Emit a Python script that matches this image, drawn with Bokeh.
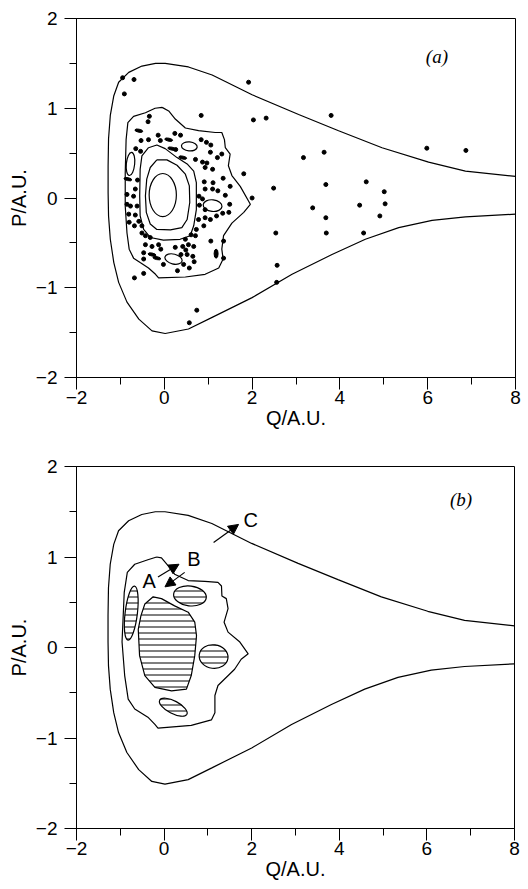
from bokeh.plotting import figure
from bokeh.models import (Range1d, SingleIntervalTicker, Arrow, NormalHead, Label,
                          ColumnDataSource, LabelSet)
from bokeh.layouts import column
from bokeh.embed import file_html
from bokeh.resources import INLINE
from bokeh.core.properties import value

# ---------------- data ----------------
# outer separatrix curve (same in both panels)
sep_q = [8.0, 6.86, 6.02, 4.96, 3.97, 3.06, 2.0, 1.09, 0.55, 0.02, -0.2, -0.51, -0.81,
         -1.04, -1.15, -1.23, -1.27, -1.28, -1.28, -1.27, -1.23, -1.15, -1.04, -0.85,
         -0.58, -0.28, 0.02, 0.55, 1.09, 2.0, 2.91, 3.82, 4.58, 5.34, 6.1, 6.86, 8.0]
sep_p = [0.24, 0.30, 0.40, 0.56, 0.75, 0.93, 1.15, 1.37, 1.46, 1.50, 1.50, 1.47, 1.40,
         1.29, 1.14, 0.92, 0.66, 0.36, 0.06, -0.20, -0.46, -0.72, -0.94, -1.16,
         -1.35, -1.48, -1.51, -1.46, -1.33, -1.11, -0.85, -0.63, -0.46, -0.33, -0.25, -0.21, -0.18]

# panel (a): boundary of the chaotic region
bnd_a_q = [-0.05, 0.10, 0.25, 0.48, 0.78, 1.16, 1.31, 1.37, 1.39, 1.50, 1.46, 1.54, 1.73,
           1.96, 1.81, 1.54, 1.35, 1.31, 1.34, 1.24, 0.93, 0.48, -0.13, -0.20, -0.36,
           -0.55, -0.70, -0.80, -0.85, -0.89, -0.89, -0.87, -0.83, -0.70, -0.43, -0.21]
bnd_a_p = [1.01, 0.97, 0.88, 0.78, 0.75, 0.73, 0.73, 0.65, 0.56, 0.49, 0.36, 0.25, 0.13,
           -0.07, -0.16, -0.28, -0.42, -0.57, -0.68, -0.78, -0.85, -0.88, -0.89, -0.85, -0.78,
           -0.72, -0.67, -0.57, -0.39, -0.09, 0.28, 0.65, 0.84, 0.91, 0.95, 1.00]

# panel (a): nested regular orbits around the centre
loop2_q = [-0.17, 0.06, 0.29, 0.48, 0.57, 0.58, 0.52, 0.40, 0.14, -0.17, -0.32, -0.41, -0.43, -0.40, -0.32]
loop2_p = [0.425, 0.425, 0.365, 0.265, 0.135, -0.05, -0.24, -0.33, -0.356, -0.35, -0.29, -0.16, 0.024, 0.21, 0.34]
loop3_q = [-0.36, -0.17, 0.02, 0.29, 0.52, 0.67, 0.73, 0.73, 0.67, 0.59, 0.36, -0.02, -0.32, -0.47, -0.55, -0.56, -0.55, -0.51]
loop3_p = [0.56, 0.59, 0.55, 0.45, 0.38, 0.30, 0.17, -0.13, -0.31, -0.42, -0.46, -0.47, -0.44, -0.35, -0.20, 0.02, 0.32, 0.47]

# panel (a): small elliptic islands (centre, full width, full height)
isl_a_q = [-0.035, 0.57, 1.10, 0.21, -0.77]
isl_a_p = [0.033, 0.575, -0.085, -0.68, 0.38]
isl_a_w = [0.62, 0.36, 0.43, 0.40, 0.19]
isl_a_h = [0.48, 0.10, 0.13, 0.11, 0.26]
isl_a_ang = [0.0, -0.1, -0.1, -0.25, -0.1]

# panel (a): Poincare section points
dot_q = [-0.95, -0.69, -0.91, 1.92, 0.84, 2.03, 2.32, 3.80, 3.17, 3.64, 5.98, 6.87, 1.81, 2.49,
         2.00, 3.68, 4.60, 5.01, 5.03, 3.38, 4.45, 3.68, 4.91, 2.54, 3.69, 4.54, 2.57, 2.56,
         -0.68, -0.47, 0.74, 0.57, 1.35, 1.35,
         -0.34, -0.37, -0.14, 0.24, 0.37, -0.53, -0.36, -0.09, -0.65, -0.54, 0.84, 0.96, 1.06,
         0.26, 1.05, 1.21, 1.31, 0.71, 0.87, 0.97, 0.93, 1.10, 1.34, 1.50, -0.61, -0.85, -0.66,
         -0.70, 0.91, 0.93, 1.11, 1.10, 1.22, 0.79, 0.87, 1.39, 1.49, -0.85, -0.77, -0.62, -0.81,
         -0.66, 0.80, 0.93, 1.47, -0.80, -0.58, -0.51, -0.68, 0.78, 0.93, 1.05, 1.19, 1.33, 0.90,
         0.73, -0.51, -0.43, -0.32, 0.61, 0.71, 0.48, 0.55, 0.67, 1.06, -0.43, -0.28, -0.13, -0.08,
         0.25, 0.42, 0.49, -0.47, 0.38, 0.52, 0.65, -0.47, -0.02, 0.30, 0.44, 0.57, 0.68]
dot_p = [1.34, 1.32, 1.16, 1.29, 0.92, 0.87, 0.89, 0.92, 0.45, 0.51, 0.555, 0.53, 0.27, 0.11,
         0.0, 0.15, 0.18, 0.07, -0.065, -0.11, -0.08, -0.22, -0.20, -0.39, -0.39, -0.39, -0.75, -0.94,
         -0.89, -0.84, -1.25, -1.39, -0.48, -0.67,
         0.91, 0.85, 0.70, 0.72, 0.70, 0.64, 0.65, 0.64, 0.55, 0.52, 0.65, 0.62, 0.59,
         0.54, 0.51, 0.45, 0.49, 0.43, 0.40, 0.39, 0.34, 0.32, 0.22, 0.13, 0.20, 0.04, 0.10,
         0.02, 0.18, 0.10, 0.17, 0.10, 0.08, 0.02, -0.01, 0.03, -0.07, -0.07, -0.09, -0.09, -0.18,
         -0.19, -0.08, -0.13, -0.16, -0.27, -0.26, -0.31, -0.31, -0.24, -0.22, -0.24, -0.20, -0.17, -0.31,
         -0.35, -0.39, -0.42, -0.44, -0.41, -0.42, -0.46, -0.52, -0.54, -0.48, -0.52, -0.54, -0.52, -0.57,
         -0.55, -0.54, -0.58, -0.61, -0.63, -0.63, -0.65, -0.68, -0.74, -0.81, -0.74, -0.78, -0.71]
# short streak-like marks
streak_q = [-0.58, 0.10, 0.17, 0.42, -0.83, -0.28, -0.17]
streak_p = [0.75, 0.65, 0.55, 0.45, 0.21, -0.63, -0.67]
blob_q = [1.18]
blob_p = [-0.62]

# panel (b): boundary of the chaotic region
bnd_b_q = [-0.17, -0.06, 0.09, 0.24, 0.55, 0.93, 1.23, 1.31, 1.32, 1.42, 1.46, 1.37, 1.46,
           1.73, 1.92, 1.76, 1.61, 1.23, 1.16, 1.16, 1.08, 0.62, -0.14, -0.21, -0.37, -0.67,
           -0.82, -0.90, -0.96, -0.91, -0.84, -0.67, -0.37]
bnd_b_p = [1.00, 0.99, 0.905, 0.81, 0.74, 0.73, 0.72, 0.68, 0.57, 0.54, 0.43, 0.28, 0.17,
           0.06, -0.07, -0.13, -0.24, -0.42, -0.53, -0.72, -0.80, -0.86, -0.89, -0.85, -0.77, -0.68,
           -0.57, -0.31, 0.06, 0.61, 0.83, 0.92, 0.97]

# panel (b): hatched regular region around the centre
core_q = [-0.25, -0.06, 0.24, 0.55, 0.70, 0.74, 0.70, 0.62, 0.51, 0.17, -0.21, -0.44, -0.56, -0.59, -0.53, -0.44]
core_p = [0.56, 0.54, 0.46, 0.39, 0.28, 0.13, -0.09, -0.31, -0.46, -0.48, -0.44, -0.31, -0.09, 0.20, 0.35, 0.48]

# panel (b): hatched islands
isl_b_q = [0.59, 1.13, 0.21, -0.75]
isl_b_p = [0.57, -0.10, -0.66, 0.38]
isl_b_w = [0.75, 0.66, 0.70, 0.28]
isl_b_h = [0.22, 0.26, 0.14, 0.60]
isl_b_ang = [-0.12, -0.12, -0.48, -0.12]

# panel (b): arrows and their labels
arr_q0 = [-0.14, 0.47, 1.13]
arr_p0 = [0.78, 0.83, 1.16]
arr_q1 = [0.34, 0.02, 1.70]
arr_p1 = [0.92, 0.67, 1.36]
lab_q = [-0.34, 0.68, 1.98]
lab_p = [0.74, 0.98, 1.41]
lab_t = ["A", "B", "C"]

x_range_lim = (-2, 8)
y_range_lim = (-2, 2)

SANS = "Liberation Sans"


def base_fig(fw, fh, bl, bt, br, bb):
    p = figure(frame_width=fw, frame_height=fh, output_backend="svg", toolbar_location=None,
               x_range=Range1d(*x_range_lim), y_range=Range1d(*y_range_lim),
               min_border_left=bl, min_border_top=bt, min_border_right=br, min_border_bottom=bb)
    p.grid.visible = False
    p.outline_line_color = "black"
    p.outline_line_width = 1
    p.background_fill_color = "white"
    p.border_fill_color = "white"
    p.xaxis.ticker = SingleIntervalTicker(interval=2, num_minor_ticks=2)
    p.yaxis.ticker = SingleIntervalTicker(interval=1, num_minor_ticks=2)
    p.xaxis.major_label_overrides = {-2: "\u22122"}
    p.yaxis.major_label_overrides = {-2: "\u22122", -1: "\u22121"}
    for ax in (p.xaxis[0], p.yaxis[0]):
        ax.axis_line_color = "black"
        ax.major_tick_line_color = "black"
        ax.minor_tick_line_color = "black"
        ax.major_tick_in = 0
        ax.major_tick_out = 12
        ax.minor_tick_in = 0
        ax.minor_tick_out = 7
        ax.major_label_text_font = SANS
        ax.major_label_text_font_size = "19px"
        ax.major_label_text_color = "black"
        ax.axis_label_text_font = SANS
        ax.axis_label_text_font_size = "20px"
        ax.axis_label_text_font_style = "normal"
        ax.axis_label_text_color = "black"
    p.xaxis.axis_label = "Q/A.U."
    p.yaxis.axis_label = "P/A.U."
    p.xaxis.major_label_standoff = 1
    p.xaxis.axis_label_standoff = 0
    p.yaxis.major_label_standoff = 7
    p.yaxis.axis_label_standoff = 3
    return p


def closed(a):
    return list(a) + [a[0]]


LW = 1.2

# ---------------- panel (a) ----------------
pa = base_fig(439, 359, 76, 18, 8, 52)
pa.line(sep_q, sep_p, line_color="black", line_width=LW)
pa.line(closed(bnd_a_q), closed(bnd_a_p), line_color="black", line_width=LW)
pa.line(closed(loop2_q), closed(loop2_p), line_color="black", line_width=LW)
pa.line(closed(loop3_q), closed(loop3_p), line_color="black", line_width=LW)
pa.ellipse(x=isl_a_q, y=isl_a_p, width=isl_a_w, height=isl_a_h, angle=isl_a_ang,
           fill_alpha=0, line_color="black", line_width=LW)
pa.scatter(dot_q, dot_p, size=4, color="black")
pa.ellipse(x=streak_q, y=streak_p, width=8, height=3, width_units="screen",
           height_units="screen", angle=-0.2, color="black")
pa.ellipse(x=blob_q, y=blob_p, width=4, height=9, width_units="screen",
           height_units="screen", color="black")
pa.add_layout(Label(x=6.21, y=1.58, text="(a)", text_font="Liberation Serif",
                    text_font_style="italic", text_font_size="19px", text_align="center",
                    text_baseline="middle", text_color="black"))

# ---------------- panel (b) ----------------
pb = base_fig(438, 362, 70, 35, 11, 52)
pb.line(sep_q, sep_p, line_color="black", line_width=LW)
pb.line(closed(bnd_b_q), closed(bnd_b_p), line_color="black", line_width=LW)
pb.patch(core_q, core_p, fill_alpha=0, line_color="black", line_width=LW,
         hatch_pattern="horizontal_line", hatch_color="black", hatch_scale=6, hatch_weight=1)
pb.ellipse(x=isl_b_q, y=isl_b_p, width=isl_b_w, height=isl_b_h, angle=isl_b_ang,
           fill_alpha=0, line_color="black", line_width=LW,
           hatch_pattern="horizontal_line", hatch_color="black", hatch_scale=6, hatch_weight=1)
arr_src = ColumnDataSource(dict(x0=arr_q0, y0=arr_p0, x1=arr_q1, y1=arr_p1))
pb.add_layout(Arrow(source=arr_src, x_start="x0", y_start="y0", x_end="x1", y_end="y1",
                    line_color="black", line_width=1.2,
                    end=NormalHead(size=10, fill_color="black", line_color="black")))
lab_src = ColumnDataSource(dict(x=lab_q, y=lab_p, t=lab_t))
pb.add_layout(LabelSet(source=lab_src, x="x", y="y", text="t", text_font=value(SANS),
                       text_font_size=value("20px"), text_align="center",
                       text_baseline="middle", text_color="black"))
pb.add_layout(Label(x=6.78, y=1.63, text="(b)", text_font="Liberation Serif",
                    text_font_style="italic", text_font_size="19px", text_align="center",
                    text_baseline="middle", text_color="black"))

layout = column(pa, pb, spacing=0)
open("out.html", "w").write(file_html(layout, INLINE))
